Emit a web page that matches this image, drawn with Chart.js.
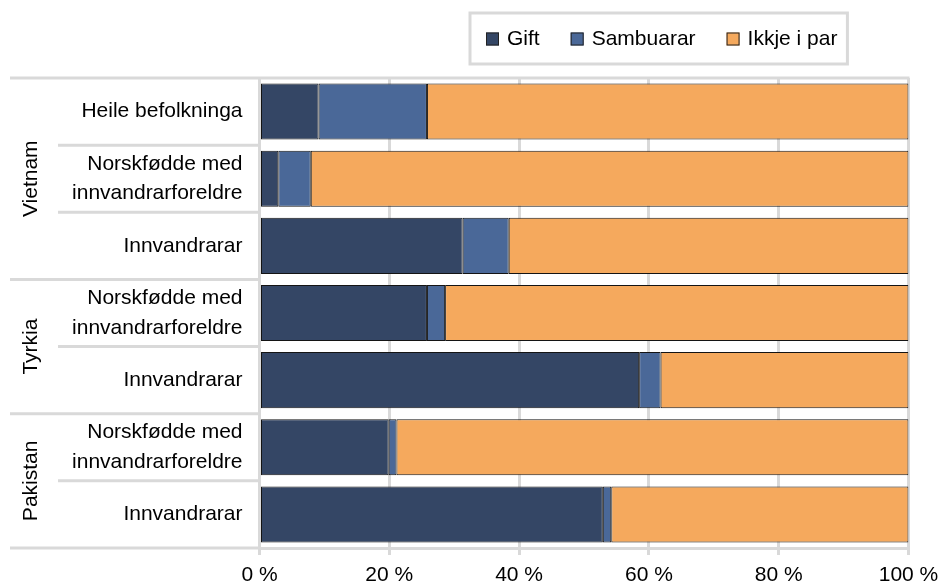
<!DOCTYPE html>
<html>
<head>
<meta charset="utf-8">
<script src="https://cdn.jsdelivr.net/npm/chart.js@4.4.1/dist/chart.umd.min.js"></script>
<style>
html,body{margin:0;padding:0;background:#fff;}
#wrap{width:942px;height:588px;position:relative;}
</style>
</head>
<body>
<div id="wrap"><canvas id="c" width="942" height="588"></canvas></div>
<script>
const categories = [
  'Heile befolkninga',
  ['Norskfødde med', 'innvandrarforeldre'],
  'Innvandrarar',
  ['Norskfødde med', 'innvandrarforeldre'],
  'Innvandrarar',
  ['Norskfødde med', 'innvandrarforeldre'],
  'Innvandrarar'
];
const groups = ['Vietnam', 'Tyrkia', 'Pakistan'];
const groupSizes = [3, 2, 2];
const seriesNames = ['Gift', 'Sambuarar', 'Ikkje i par'];
const gift = [9.1, 2.9, 31.3, 25.8, 58.5, 19.9, 52.9];
const sambuarar = [16.7, 5.0, 7.1, 2.8, 3.3, 1.2, 1.3];
const ikkjeIPar = [74.2, 92.1, 61.6, 71.4, 38.2, 78.9, 45.8];
const xTicks = [0, 20, 40, 60, 80, 100];

const FONT = "'Liberation Sans', Arial, sans-serif";
const GRID = '#d9d9d9';
const colors = ['#344665', '#4a6898', '#f5a95d'];

const sidePlugin = {
  id: 'side',
  afterDraw(chart) {
    const ctx = chart.ctx;
    const y = chart.scales.y;
    const area = chart.chartArea;
    const n = categories.length;
    const pix = i => y.getPixelForValue(i);
    const step = n > 1 ? pix(1) - pix(0) : 0;
    ctx.save();
    ctx.strokeStyle = GRID;
    ctx.lineWidth = 3;
    const groupEnds = [];
    let acc = 0;
    groupSizes.forEach(s => { acc += s; groupEnds.push(acc); });
    for (let i = 1; i < n; i++) {
      const yy = pix(i) - step / 2;
      const isGroup = groupEnds.includes(i);
      ctx.beginPath();
      ctx.moveTo(isGroup ? 10 : 58, yy);
      ctx.lineTo(area.left, yy);
      ctx.stroke();
    }
    ctx.beginPath();
    ctx.moveTo(10, area.top);
    ctx.lineTo(area.right + 1, area.top);
    ctx.stroke();
    ctx.beginPath();
    ctx.moveTo(10, area.bottom);
    ctx.lineTo(area.left, area.bottom);
    ctx.stroke();
    ctx.fillStyle = '#000';
    ctx.font = '21px ' + FONT;
    ctx.textAlign = 'center';
    ctx.textBaseline = 'middle';
    let start = 0;
    groups.forEach((g, gi) => {
      const end = start + groupSizes[gi] - 1;
      const cy = (pix(start) + pix(end)) / 2;
      ctx.save();
      ctx.translate(31, cy);
      ctx.rotate(-Math.PI / 2);
      ctx.fillText(g, 0, 0);
      ctx.restore();
      start = end + 1;
    });
    const bx = 470, by = 13, bh = 51;
    ctx.font = '21px ' + FONT;
    let x = bx + 16;
    const items = chart.data.datasets.map(d => ({ label: d.label, color: d.backgroundColor }));
    const positions = [];
    items.forEach((it, i) => {
      positions.push(x);
      x += 13 + 8 + ctx.measureText(it.label).width + (i < items.length - 1 ? 31 : 10);
    });
    ctx.strokeStyle = GRID;
    ctx.lineWidth = 3;
    ctx.strokeRect(bx, by, x - bx, bh);
    items.forEach((it, i) => {
      const px = positions[i];
      const cy = by + bh / 2;
      ctx.fillStyle = it.color;
      ctx.fillRect(px, cy - 6, 13, 13);
      ctx.strokeStyle = '#222';
      ctx.lineWidth = 1;
      ctx.strokeRect(px + 0.5, cy - 5.5, 12, 12);
      ctx.fillStyle = '#000';
      ctx.textAlign = 'left';
      ctx.textBaseline = 'middle';
      ctx.fillText(it.label, px + 21, cy + 1);
    });
    ctx.restore();
  }
};

const seriesData = [gift, sambuarar, ikkjeIPar];

new Chart(document.getElementById('c'), {
  type: 'bar',
  data: {
    labels: categories,
    datasets: seriesNames.map((name, i) => ({
      label: name,
      data: seriesData[i],
      backgroundColor: colors[i],
      borderColor: '#141414',
      borderWidth: 1,
      borderSkipped: false,
      barPercentage: 0.835,
      categoryPercentage: 1
    }))
  },
  options: {
    indexAxis: 'y',
    responsive: false,
    animation: false,
    devicePixelRatio: 1,
    layout: { padding: { top: 78, right: 33.5, left: 0, bottom: 0 } },
    plugins: { legend: { display: false }, tooltip: { enabled: false } },
    scales: {
      x: {
        stacked: true,
        min: 0,
        max: 100,
        afterBuildTicks(scale) { scale.ticks = xTicks.map(v => ({ value: v })); },
        afterFit(scale) { scale.height = 40; scale.paddingLeft = 0; scale.paddingRight = 0; },
        ticks: {
          callback: v => v + ' %',
          color: '#000',
          font: { family: FONT, size: 21 },
          padding: 8,
          maxRotation: 0
        },
        grid: { color: GRID, lineWidth: 3, tickLength: 7, drawTicks: true },
        border: { display: true, color: GRID, width: 3 }
      },
      y: {
        stacked: true,
        afterFit(scale) { scale.width = 259.5; scale.paddingTop = 0; scale.paddingBottom = 0; },
        ticks: {
          color: '#000',
          font: { family: FONT, size: 21, lineHeight: 1.42 },
          padding: 17,
          autoSkip: false
        },
        grid: { display: false, drawTicks: false },
        border: { display: true, color: GRID, width: 3 }
      }
    }
  },
  plugins: [sidePlugin]
});
</script>
</body>
</html>
